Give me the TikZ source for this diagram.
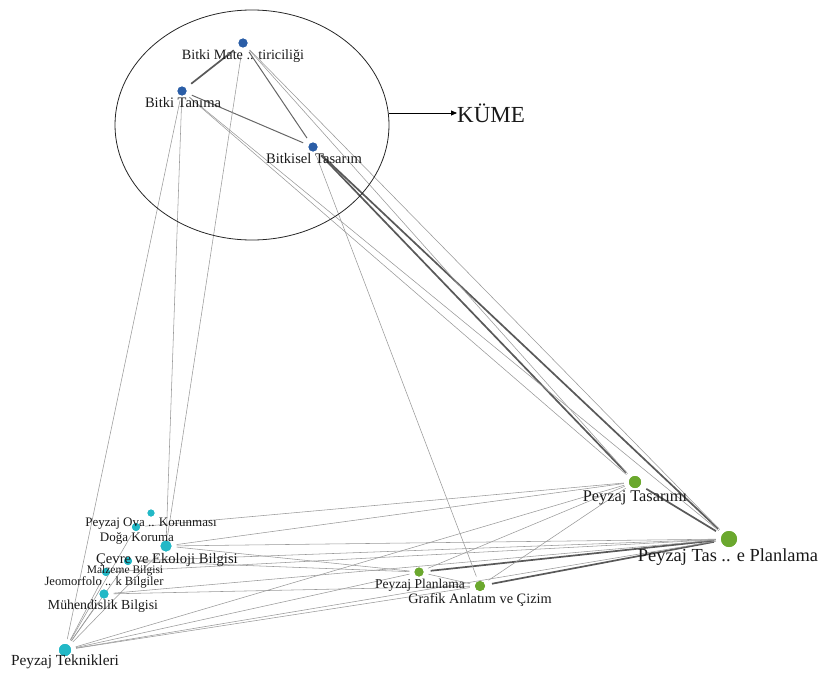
\documentclass[tikz,border=0pt]{standalone}
\usepackage{fontspec}
\setmainfont{Liberation Serif}
\usetikzlibrary{arrows.meta}
\definecolor{cblue}{HTML}{2B5EA7}
\definecolor{cteal}{HTML}{22B8C6}
\definecolor{cgreen}{HTML}{6BA82E}
\tikzset{
  dot/.style={circle,inner sep=0pt,minimum size=#1},
  bdot/.style={dot=#1,fill=cblue},
  tdot/.style={dot=#1,fill=cteal},
  gdot/.style={dot=#1,fill=cgreen},
  lab/.style={inner sep=0pt,text=black!90,font=\fontsize{#1}{#1}\selectfont},
  thin link/.style={draw=black!40,line width=0.55pt,shorten <=5pt,shorten >=5pt},
  mid link/.style={draw=black!60,line width=1pt,shorten <=6pt,shorten >=6pt},
  thick link/.style={draw=black!65,line width=1.7pt,shorten <=7pt,shorten >=7pt},
}
\begin{document}
\begin{tikzpicture}[x=1pt,y=-1pt]
\useasboundingbox (0,0) rectangle (821,677);

% cluster members
\node[bdot=9pt]  (bm) at (243,43) {};
\node[bdot=9pt]  (bt) at (182,91) {};
\node[bdot=9pt]  (bs) at (313,147) {};
% teal group
\node[tdot=7pt]  (po) at (151,513) {};
\node[tdot=8pt]  (dk) at (136,527) {};
\node[tdot=11pt] (cv) at (166,546) {};
\node[tdot=8pt]  (mz) at (128,561) {};
\node[tdot=8pt]  (jb) at (106,572) {};
\node[tdot=9pt]  (mb) at (104,594) {};
\node[tdot=12pt] (pt) at (65,650) {};
% green group
\node[gdot=12pt] (ptas) at (635,482) {};
\node[gdot=16pt] (ptp)  at (729,539) {};
\node[gdot=9pt]  (pp)   at (419,572) {};
\node[gdot=10pt] (ga)   at (480,586) {};

% links
\draw[thick link] (bm) -- (bt);
\draw[mid link]   (bm) -- (bs);
\draw[mid link]   (bt) -- (bs);
\draw[thick link] (bs) -- (ptas);
\draw[thick link] (bs) -- (ptp);
\draw[thick link] (ptas) -- (ptp);
\draw[thick link] (ptp) -- (pp);
\draw[thick link] (ptp) -- (ga);

\draw[thin link] (bm) -- (ptas);
\draw[thin link] (bm) -- (ptp);
\draw[thin link] (bt) -- (ptas);
\draw[thin link] (bt) -- (ptp);
\draw[thin link] (bm) -- (cv);
\draw[thin link] (bt) -- (cv);
\draw[thin link] (bt) -- (pt);
\draw[thin link] (bs) -- (ga);

\draw[thin link] (ptas) -- (pp);
\draw[thin link] (ptas) -- (ga);
\draw[thin link] (pp) -- (ga);

\draw[thin link] (cv) -- (ptas);
\draw[thin link] (dk) -- (ptas);
\draw[thin link] (cv) -- (ptp);
\draw[thin link] (cv) -- (pp);
\draw[thin link] (mz) -- (pp);
\draw[thin link] (mz) -- (ptp);
\draw[thin link] (jb) -- (ptp);
\draw[thin link] (mb) -- (ptp);
\draw[thin link] (mb) -- (ga);

\draw[thin link] (pt) -- (ptas);
\draw[thin link] (pt) -- (ptp);
\draw[thin link] (pt) -- (pp);
\draw[thin link] (pt) -- (ga);
\draw[thin link] (pt) -- (mb);
\draw[thin link] (pt) -- (jb);
\draw[thin link] (pt) -- (mz);
\draw[thin link] (pt) -- (cv);
\draw[thin link] (pt) -- (dk);

% redraw dots on top of the links
\foreach \n/\c/\s in {bm/cblue/9,bt/cblue/9,bs/cblue/9,po/cteal/7,dk/cteal/8,cv/cteal/11,mz/cteal/8,jb/cteal/8,mb/cteal/9,pt/cteal/12,ptas/cgreen/12,ptp/cgreen/16,pp/cgreen/9,ga/cgreen/10}
  \fill[\c] (\n) circle (\s pt/2);

% labels
\node[lab=14.2] (bm-l) at (243,56) {Bitki Mate .. tiriciliği};
\node[lab=14.5] (bt-l) at (183,103) {Bitki Tanıma};
\node[lab=14.6] (bs-l) at (314,159) {Bitkisel Tasarım};
\node[lab=13] (po-l) at (151,524) {Peyzaj Ova .. Korunması};
\node[lab=13] (dk-l) at (137,538) {Doğa Koruma};
\node[lab=14.6] (cv-l) at (167,560) {Çevre ve Ekoloji Bilgisi};
\node[lab=11.5] (mz-l) at (125,571) {Malzeme Bilgisi};
\node[lab=12.6] (jb-l) at (104,582) {Jeomorfolo .. k Bilgiler};
\node[lab=13.8] (mb-l) at (103,606) {Mühendislik Bilgisi};
\node[lab=15.4] (pt-l) at (65,662) {Peyzaj Teknikleri};
\node[lab=16.3] (ptas-l) at (635,498) {Peyzaj Tasarımı};
\node[lab=18.4] (ptp-l) at (728,557) {Peyzaj Tas .. e Planlama};
\node[lab=13.5] (pp-l) at (420,585) {Peyzaj Planlama};
\node[lab=14.3] (ga-l) at (480,600) {Grafik Anlatım ve Çizim};

% cluster outline and its tag
\draw[black!85,line width=0.8pt] (252,125) ellipse [x radius=137pt,y radius=115pt];
\coordinate (kume-start) at (389,113);
\node[lab=23,anchor=west] (kume) at (457,113) {KÜME};
\draw[black,line width=0.8pt,-{Triangle[length=6pt,width=5pt]}] (kume-start) -- (kume.west);
\end{tikzpicture}
\end{document}
